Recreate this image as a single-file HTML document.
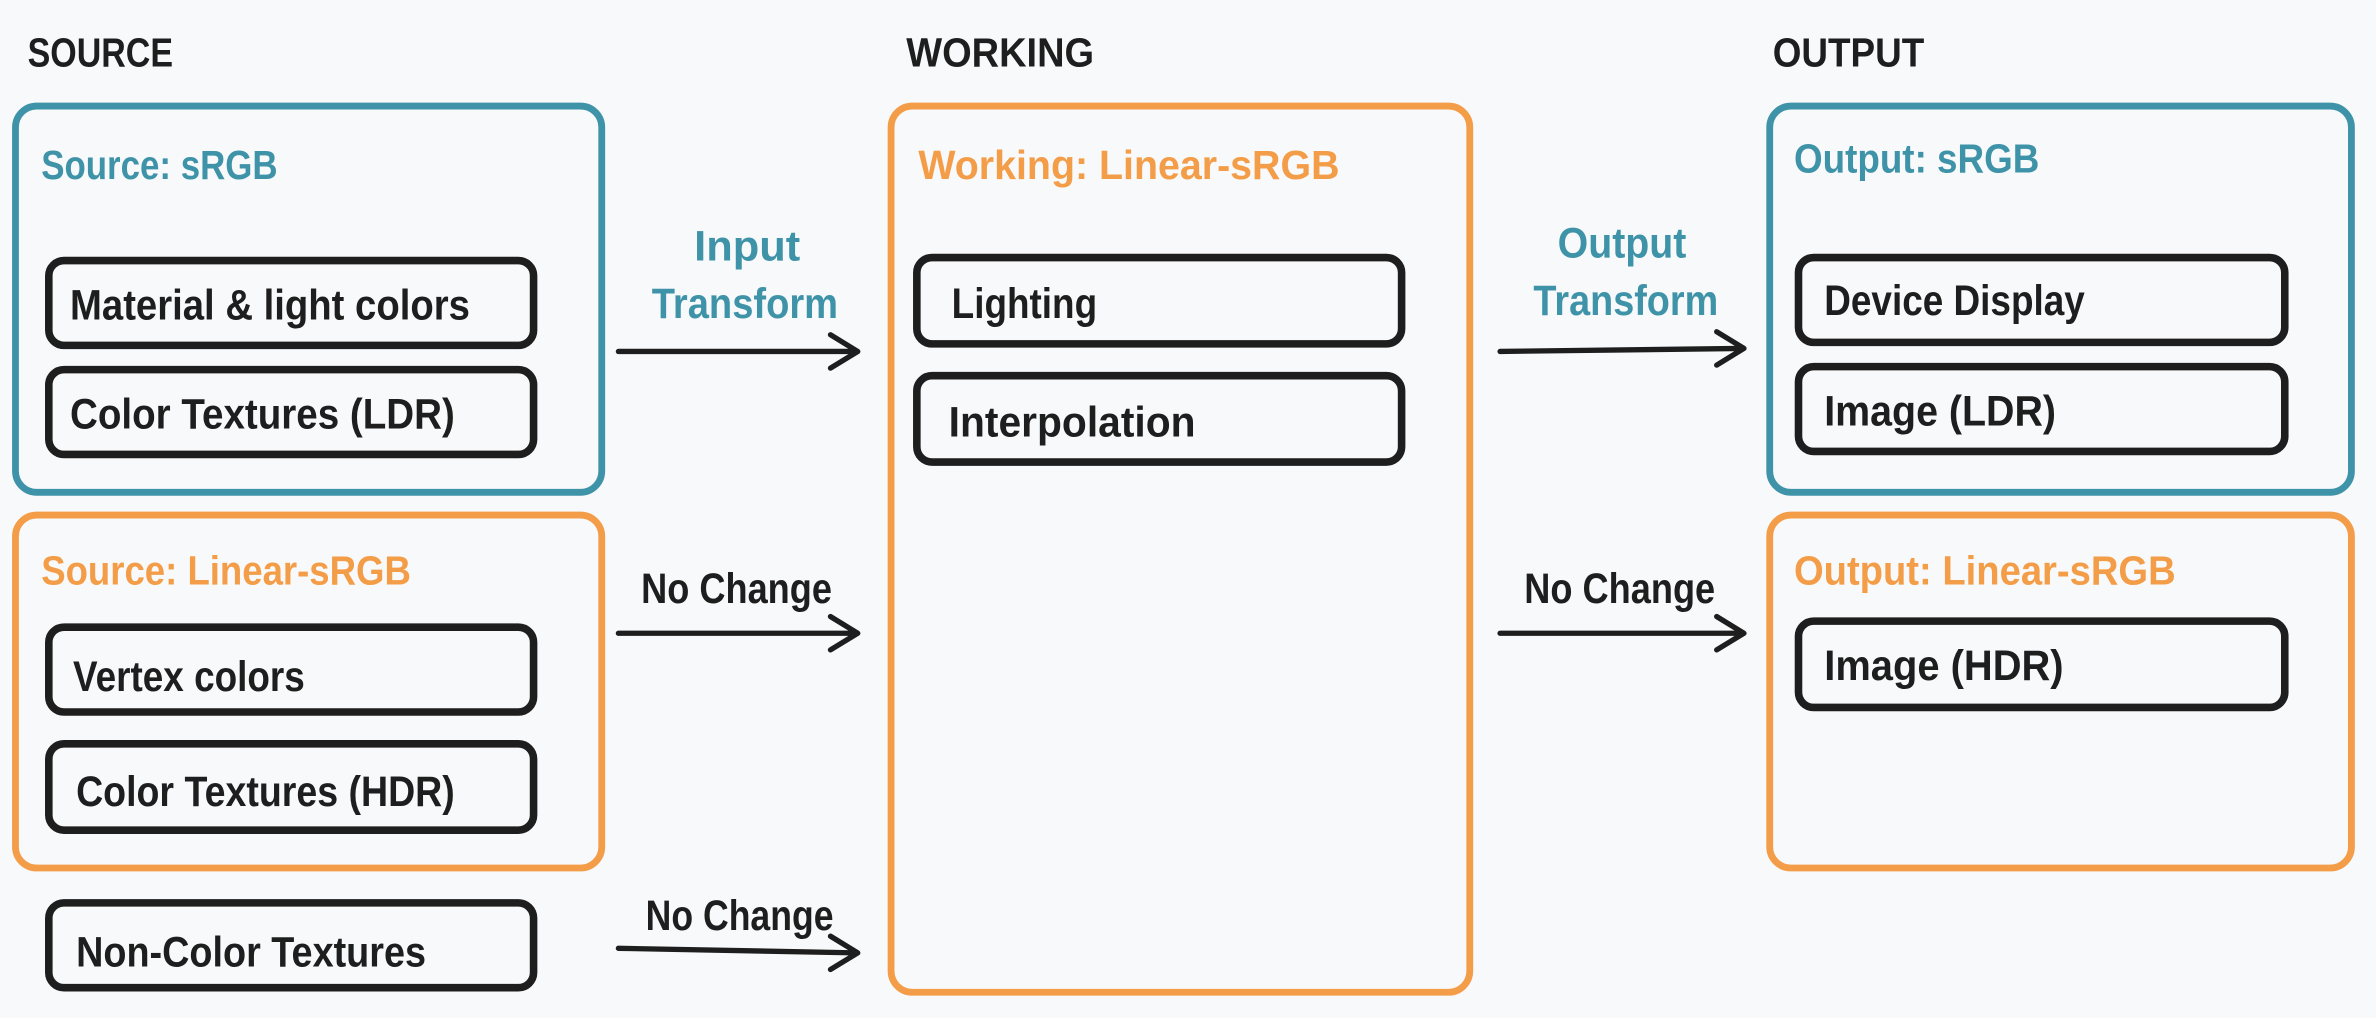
<!DOCTYPE html>
<html><head><meta charset="utf-8"><style>
html,body{margin:0;padding:0;background:#f8f9fa;}
svg{display:block;}
text{font-family:"Liberation Sans",sans-serif;font-weight:bold;}
</style></head><body>
<svg width="2376" height="1018" viewBox="0 0 1568 672" xmlns="http://www.w3.org/2000/svg">
<rect width="1568" height="672" fill="#f8f9fa"/>
<g font-size="27" fill="#1e1e1e" lengthAdjust="spacingAndGlyphs">
<text x="18" y="44" textLength="96" lengthAdjust="spacingAndGlyphs">SOURCE</text>
<text x="598" y="44" textLength="124" lengthAdjust="spacingAndGlyphs">WORKING</text>
<text x="1170" y="44" textLength="100" lengthAdjust="spacingAndGlyphs">OUTPUT</text>
</g>
<g fill="none" stroke-width="4.5" stroke-linejoin="round">
<rect x="10" y="70" width="387" height="255" rx="14" stroke="#3f93a8"/>
<rect x="10" y="340" width="387" height="233" rx="14" stroke="#f49d48"/>
<rect x="588" y="70" width="382" height="585" rx="14" stroke="#f49d48"/>
<rect x="1168" y="70" width="384" height="255" rx="14" stroke="#3f93a8"/>
<rect x="1168" y="340" width="384" height="233" rx="14" stroke="#f49d48"/>
</g>
<g fill="none" stroke="#1e1e1e" stroke-width="5" stroke-linejoin="round">
<rect x="32" y="172" width="320" height="56" rx="10"/>
<rect x="32" y="244" width="320" height="56" rx="10"/>
<rect x="32" y="414" width="320" height="56" rx="10"/>
<rect x="32" y="491" width="320" height="57" rx="10"/>
<rect x="32" y="596" width="320" height="56" rx="10"/>
<rect x="605" y="170" width="320" height="57" rx="10"/>
<rect x="605" y="248" width="320" height="57" rx="10"/>
<rect x="1187" y="170" width="321" height="56" rx="10"/>
<rect x="1187" y="242" width="321" height="56" rx="10"/>
<rect x="1187" y="410" width="321" height="57" rx="10"/>
</g>
<g font-size="27">
<text x="27" y="118" fill="#3f93a8" textLength="156" lengthAdjust="spacingAndGlyphs">Source: sRGB</text>
<text x="27" y="386" fill="#f49d48" textLength="244" lengthAdjust="spacingAndGlyphs">Source: Linear-sRGB</text>
<text x="606" y="118" fill="#f49d48" textLength="278" lengthAdjust="spacingAndGlyphs">Working: Linear-sRGB</text>
<text x="1184" y="114" fill="#3f93a8" textLength="162" lengthAdjust="spacingAndGlyphs">Output: sRGB</text>
<text x="1184" y="386" fill="#f49d48" textLength="252" lengthAdjust="spacingAndGlyphs">Output: Linear-sRGB</text>
</g>
<g font-size="28" fill="#1e1e1e">
<text x="46" y="211" textLength="264" lengthAdjust="spacingAndGlyphs">Material &amp; light colors</text>
<text x="46" y="283" textLength="254" lengthAdjust="spacingAndGlyphs">Color Textures (LDR)</text>
<text x="48" y="456" textLength="153" lengthAdjust="spacingAndGlyphs">Vertex colors</text>
<text x="50" y="532" textLength="250" lengthAdjust="spacingAndGlyphs">Color Textures (HDR)</text>
<text x="50" y="638" textLength="231" lengthAdjust="spacingAndGlyphs">Non-Color Textures</text>
<text x="628" y="210" textLength="96" lengthAdjust="spacingAndGlyphs">Lighting</text>
<text x="626" y="288" textLength="163" lengthAdjust="spacingAndGlyphs">Interpolation</text>
<text x="1204" y="208" textLength="172" lengthAdjust="spacingAndGlyphs">Device Display</text>
<text x="1204" y="281" textLength="153" lengthAdjust="spacingAndGlyphs">Image (LDR)</text>
<text x="1204" y="449" textLength="158" lengthAdjust="spacingAndGlyphs">Image (HDR)</text>
</g>
<g font-size="28">
<text x="458" y="172" fill="#3f93a8" textLength="70" lengthAdjust="spacingAndGlyphs">Input</text>
<text x="430" y="210" fill="#3f93a8" textLength="123" lengthAdjust="spacingAndGlyphs">Transform</text>
<text x="423" y="398" fill="#1e1e1e" textLength="126" lengthAdjust="spacingAndGlyphs">No Change</text>
<text x="426" y="614" fill="#1e1e1e" textLength="124" lengthAdjust="spacingAndGlyphs">No Change</text>
<text x="1028" y="170" fill="#3f93a8" textLength="85" lengthAdjust="spacingAndGlyphs">Output</text>
<text x="1012" y="208" fill="#3f93a8" textLength="122" lengthAdjust="spacingAndGlyphs">Transform</text>
<text x="1006" y="398" fill="#1e1e1e" textLength="126" lengthAdjust="spacingAndGlyphs">No Change</text>
</g>
<g stroke="#1e1e1e" stroke-width="3.5" fill="none" stroke-linecap="round" stroke-linejoin="round">
<path d="M408 232 L565 232 M548 221 L566 232 L548 243"/>
<path d="M408 418 L565 418 M548 407 L566 418 L548 429"/>
<path d="M408 626 L565 629 M548 618 L566 629 L548 640"/>
<path d="M990 232 L1150 230 M1133 219 L1151 230 L1133 241"/>
<path d="M990 418 L1150 418 M1133 407 L1151 418 L1133 429"/>
</g>
</svg>
</body></html>
